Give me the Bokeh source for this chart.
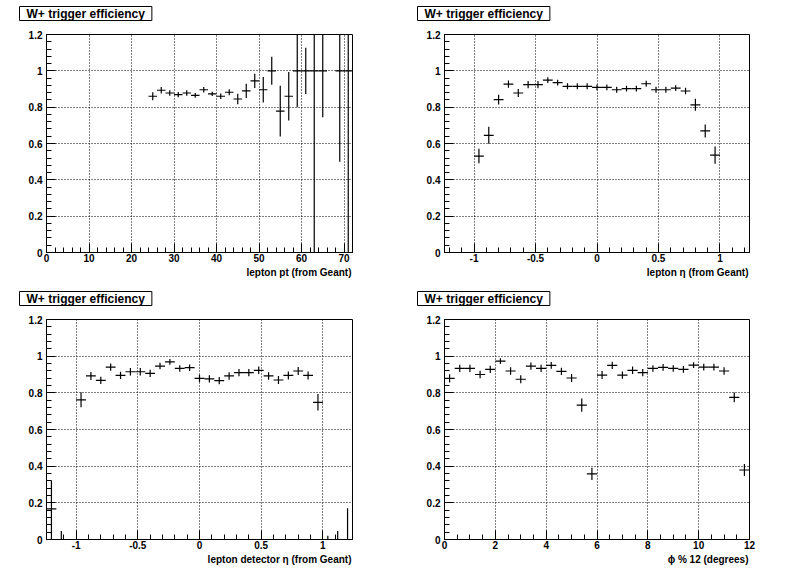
from bokeh.plotting import figure
from bokeh.models import FixedTicker, CustomJSTickFormatter, Title, Range1d
from bokeh.layouts import gridplot
from bokeh.embed import file_html
from bokeh.resources import INLINE

TITLE = "W+ trigger efficiency"

# ---- panel 1: lepton pt ----
pt_x = [25, 27, 29, 31, 33, 35, 37, 39, 41, 43, 45, 47, 49, 51, 53, 55, 57, 59, 61, 63, 65, 69, 71]
pt_eff = [0.860, 0.893, 0.878, 0.869, 0.878, 0.865, 0.896, 0.873, 0.860, 0.882, 0.845, 0.890,
          0.945, 0.896, 1.000, 0.778, 0.860, 1.000, 1.000, 1.000, 1.000, 1.000, 1.000]
pt_elo = [0.022, 0.018, 0.015, 0.015, 0.015, 0.013, 0.015, 0.012, 0.015, 0.017, 0.029, 0.039,
          0.039, 0.070, 0.077, 0.140, 0.134, 0.200, 0.127, 1.000, 0.255, 0.500, 1.000]
pt_ehi = [0.022, 0.018, 0.015, 0.015, 0.015, 0.013, 0.015, 0.012, 0.015, 0.017, 0.029, 0.039,
          0.039, 0.070, 0.077, 0.140, 0.134, 0.200, 0.127, 1.000, 0.250, 0.500, 1.000]
pt_binw = 2.0

# ---- panel 2: lepton eta ----
eta_x = [-0.96, -0.88, -0.80, -0.72, -0.64, -0.56, -0.48, -0.40, -0.32, -0.24, -0.16, -0.08, 0.0,
         0.08, 0.16, 0.24, 0.32, 0.40, 0.48, 0.56, 0.64, 0.72, 0.80, 0.88, 0.96]
eta_eff = [0.531, 0.645, 0.842, 0.927, 0.878, 0.924, 0.924, 0.949, 0.935, 0.915, 0.915, 0.915, 0.909,
           0.909, 0.896, 0.902, 0.902, 0.929, 0.896, 0.896, 0.905, 0.889, 0.813, 0.669, 0.536]
eta_err = [0.040, 0.047, 0.027, 0.020, 0.022, 0.020, 0.020, 0.016, 0.016, 0.016, 0.016, 0.016, 0.016,
           0.016, 0.016, 0.016, 0.016, 0.016, 0.016, 0.016, 0.016, 0.018, 0.033, 0.036, 0.047]
eta_binw = 0.08

# ---- panel 3: lepton detector eta ----
deta_x = [-1.20, -1.12, -0.96, -0.88, -0.80, -0.72, -0.64, -0.56, -0.48, -0.40, -0.32, -0.24, -0.16,
          -0.08, 0.0, 0.08, 0.16, 0.24, 0.32, 0.40, 0.48, 0.56, 0.64, 0.72, 0.80, 0.88, 0.96,
          1.04, 1.12, 1.20]
deta_eff = [0.167, 0.0, 0.762, 0.892, 0.868, 0.940, 0.895, 0.915, 0.915, 0.906, 0.946, 0.969, 0.933,
            0.937, 0.879, 0.876, 0.867, 0.892, 0.910, 0.910, 0.923, 0.892, 0.870, 0.895, 0.919, 0.895,
            0.748, 0.0, 0.0, 0.0]
deta_elo = [0.167, 0.0, 0.041, 0.022, 0.020, 0.020, 0.020, 0.020, 0.020, 0.020, 0.018, 0.016, 0.018,
            0.018, 0.020, 0.020, 0.020, 0.020, 0.020, 0.020, 0.020, 0.020, 0.022, 0.022, 0.022, 0.022,
            0.045, 0.0, 0.0, 0.0]
deta_ehi = [0.155, 0.047, 0.041, 0.022, 0.020, 0.020, 0.020, 0.020, 0.020, 0.020, 0.018, 0.016, 0.018,
            0.018, 0.020, 0.020, 0.020, 0.020, 0.020, 0.020, 0.020, 0.020, 0.022, 0.022, 0.022, 0.022,
            0.045, 0.020, 0.046, 0.170]
deta_binw = 0.08

# ---- panel 4: phi % 12 ----
phi_x = [0.2, 0.6, 1.0, 1.4, 1.8, 2.2, 2.6, 3.0, 3.4, 3.8, 4.2, 4.6, 5.0, 5.4, 5.8,
         6.2, 6.6, 7.0, 7.4, 7.8, 8.2, 8.6, 9.0, 9.4, 9.8, 10.2, 10.6, 11.0, 11.4, 11.8]
phi_eff = [0.879, 0.933, 0.933, 0.900, 0.928, 0.973, 0.919, 0.874, 0.946, 0.933, 0.950, 0.917, 0.881,
           0.733, 0.358, 0.897, 0.950, 0.897, 0.923, 0.910, 0.933, 0.939, 0.933, 0.928, 0.951,
           0.940, 0.940, 0.919, 0.775, 0.379]
phi_err = [0.022, 0.020, 0.020, 0.020, 0.020, 0.016, 0.020, 0.022, 0.020, 0.020, 0.018, 0.020, 0.022,
           0.036, 0.033, 0.022, 0.020, 0.020, 0.020, 0.020, 0.018, 0.018, 0.018, 0.018, 0.016,
           0.018, 0.018, 0.020, 0.027, 0.033]
phi_binw = 0.4

FONT = "Liberation Sans"
fmt = CustomJSTickFormatter(code="return String(Math.round(tick*1000)/1000)")


def panel(xc, yv, elo, ehi, binw, xr, xmaj, xmin, xlabel, left, top, fw, fh, gap, W=398, H=286):
    p = figure(width=W, height=H, frame_width=fw, frame_height=fh,
               min_border_left=left, min_border_right=W - left - fw,
               min_border_top=top, min_border_bottom=H - top - fh,
               x_range=Range1d(*xr), y_range=Range1d(0, 1.2),
               output_backend="svg", toolbar_location=None,
               background_fill_color="white", border_fill_color="white")
    p.outline_line_color = "black"
    p.outline_line_width = 1
    p.outline_line_alpha = 1
    p.xaxis.ticker = FixedTicker(ticks=xmaj, minor_ticks=xmin)
    p.yaxis.ticker = FixedTicker(ticks=[0, 0.2, 0.4, 0.6, 0.8, 1.0, 1.2],
                                 minor_ticks=[i * 0.04 for i in range(31)])
    for ax in (p.xaxis[0], p.yaxis[0]):
        ax.formatter = fmt
        ax.axis_line_color = "black"
        ax.major_tick_line_color = "black"
        ax.minor_tick_line_color = "black"
        ax.major_tick_in = 9
        ax.major_tick_out = 0
        ax.minor_tick_in = 5
        ax.minor_tick_out = 0
        ax.major_label_text_font = FONT
        ax.major_label_text_font_style = "bold"
        ax.major_label_text_font_size = "10px"
        ax.major_label_text_color = "black"
    p.xaxis.major_label_standoff = 1
    p.yaxis.major_label_standoff = 4
    for g in (p.xgrid[0], p.ygrid[0]):
        g.grid_line_color = "black"
        g.grid_line_dash = "1 2"
        g.grid_line_width = 1
    hw = binw / 2.0
    p.segment(x0=xc, y0=[y - lo for y, lo in zip(yv, elo)],
              x1=xc, y1=[y + hi for y, hi in zip(yv, ehi)],
              line_color="black", line_width=1.2)
    p.segment(x0=[x - hw for x in xc], y0=yv, x1=[x + hw for x in xc], y1=yv,
              line_color="black", line_width=1.2)
    # spacer between frame and title box
    p.add_layout(Title(text=" ", text_font_size="1px", standoff=gap), "above")
    p.add_layout(Title(text=TITLE, align="left", offset=-(left - 19), standoff=0,
                       text_font=FONT, text_font_style="bold",
                       text_font_size="12px", text_color="black",
                       border_line_color="black", border_line_width=1,
                       background_fill_color="white",
                       padding=dict(left=7, right=7, top=0, bottom=0)), "above")
    p.add_layout(Title(text=xlabel, align="right", offset=1, standoff=0,
                       text_font=FONT, text_font_style="bold",
                       text_font_size="10px", text_color="black"), "below")
    return p


eta_major = [-1, -0.5, 0, 0.5, 1]
eta_minor = [round(-1.2 + 0.1 * i, 2) for i in range(25)]

p1 = panel(pt_x, pt_eff, pt_elo, pt_ehi, pt_binw, (0, 72),
           [0, 10, 20, 30, 40, 50, 60, 70], list(range(0, 73, 2)),
           "lepton pt (from Geant)", 46, 34, 306, 218, 11)
p2 = panel(eta_x, eta_eff, eta_err, eta_err, eta_binw, (-1.24, 1.24),
           eta_major, eta_minor, "lepton \u03b7 (from Geant)", 46, 34, 305, 218, 11)
p3 = panel(deta_x, deta_eff, deta_elo, deta_ehi, deta_binw, (-1.24, 1.24),
           eta_major, eta_minor, "lepton detector \u03b7 (from Geant)", 46, 33, 306, 220, 11)
p4 = panel(phi_x, phi_eff, phi_err, phi_err, phi_binw, (0, 12),
           [0, 2, 4, 6, 8, 10, 12], [0.5 * i for i in range(25)],
           "\u03d5 % 12 (degrees)", 46, 33, 305, 220, 11)

grid = gridplot([[p1, p2], [p3, p4]], toolbar_location=None)

open("out.html", "w").write(file_html(grid, INLINE))
